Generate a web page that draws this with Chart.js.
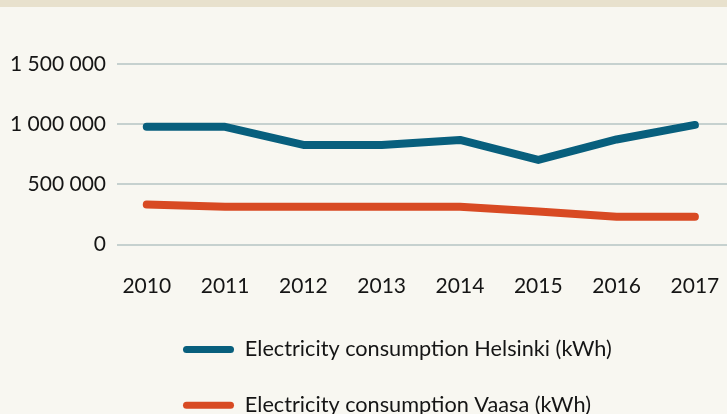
<!DOCTYPE html>
<html>
<head>
<meta charset="utf-8">
<script src="https://cdn.jsdelivr.net/npm/chart.js@4/dist/chart.umd.min.js"></script>
<style>
  body { margin: 0; background: #f8f7f1; overflow: hidden; }
  #strip { height: 7px; background: #e8e1cd; }
</style>
</head>
<body>
<div id="strip"></div>
<canvas id="chart" width="727" height="419"></canvas>
<script>
// Data (kWh)
var years = [2010, 2011, 2012, 2013, 2014, 2015, 2016, 2017];
var helsinki = [978000, 978000, 828000, 828000, 869000, 703000, 873000, 994000];
var vaasa = [333000, 314000, 314000, 314000, 314000, 274000, 231000, 231000];
var yTicks = [0, 500000, 1000000, 1500000];

var font = "Lato, 'Noto Sans', sans-serif";

function spaced(v) {
	return String(v).replace(/\B(?=(\d{3})+(?!\d))/g, ' ');
}

// push legend rows in so they start under the plot like the original
var legendIndent = {
	id: 'legendIndent',
	afterLayout: function(chart) {
		var lg = chart.legend;
		var shift = 183 - lg.left - lg.options.labels.padding;
		lg.left += shift;
		lg.right += shift;
	}
};

var ctx = document.getElementById('chart').getContext('2d');
var chart = new Chart(ctx, {
	type: 'line',
	data: {
		labels: years,
		datasets: [
			{
				label: 'Electricity consumption Helsinki (kWh)',
				data: helsinki,
				borderColor: '#085f7d',
				backgroundColor: '#085f7d',
				borderWidth: 8,
				borderCapStyle: 'round',
				borderJoinStyle: 'round',
				pointRadius: 0,
				tension: 0
			},
			{
				label: 'Electricity consumption Vaasa (kWh)',
				data: vaasa,
				borderColor: '#d84a23',
				backgroundColor: '#d84a23',
				borderWidth: 8,
				borderCapStyle: 'round',
				borderJoinStyle: 'round',
				pointRadius: 0,
				tension: 0
			}
		]
	},
	options: {
		responsive: false,
		animation: false,
		layout: { padding: { top: 57, right: 0, left: 0, bottom: 0 } },
		scales: {
			x: {
				type: 'linear',
				min: years[0] - 0.38,
				max: years[years.length - 1] + 0.41,
				afterBuildTicks: function(scale) {
					scale.ticks = years.map(function(y) { return { value: y }; });
				},
				afterFit: function(scale) {
					scale.height = 60;
					// gridlines run to the right edge in the original
					scale.paddingLeft = 0;
					scale.paddingRight = 0;
				},
				grid: { display: false, drawTicks: false },
				border: { display: false },
				ticks: {
					padding: 29,
					color: '#151515',
					font: { family: font, size: 21 },
					maxRotation: 0,
					callback: function(v) { return String(v); }
				}
			},
			y: {
				min: 0,
				max: 1500000,
				afterBuildTicks: function(scale) {
					scale.ticks = yTicks.map(function(v) { return { value: v }; });
				},
				afterFit: function(scale) { scale.width = 117; },
				grid: { color: '#c6d1cf', lineWidth: 2, drawTicks: false },
				border: { display: false },
				ticks: {
					padding: 11,
					color: '#151515',
					font: { family: font, size: 21 },
					callback: function(v) { return spaced(v); }
				}
			}
		},
		plugins: {
			tooltip: { enabled: false },
			legend: {
				position: 'bottom',
				align: 'start',
				labels: {
					font: { family: font, size: 21.7 },
					color: '#151515',
					padding: 34,
					boxWidth: 51,
					boxHeight: 7,
					useBorderRadius: true,
					borderRadius: 3.5,
					generateLabels: function(chart) {
						var items = Chart.defaults.plugins.legend.labels.generateLabels(chart);
						items.forEach(function(it) { it.lineWidth = 0; });
						return items;
					}
				}
			}
		}
	},
	plugins: [legendIndent]
});
</script>
</body>
</html>
